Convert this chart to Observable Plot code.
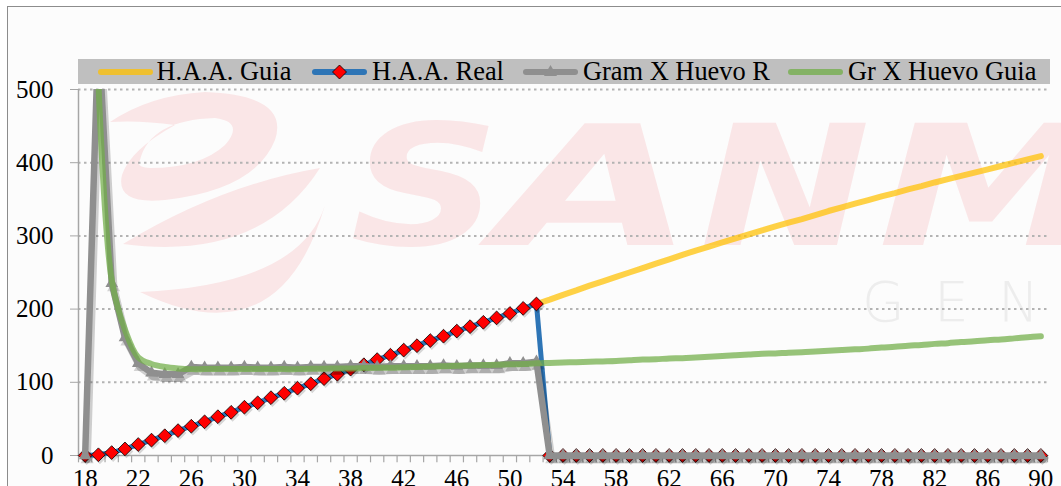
<!DOCTYPE html>
<html>
<head>
<meta charset="utf-8">
<script src="https://cdn.jsdelivr.net/npm/d3@7"></script>
<script src="https://cdn.jsdelivr.net/npm/@observablehq/plot@0.6"></script>
<style>
html,body{margin:0;padding:0;background:#fff;overflow:hidden;width:1061px;height:486px;}
#frame{position:absolute;left:7px;top:6px;width:1200px;height:600px;border:1.5px solid #8c8c8c;background:#fcfcfc;}
#wm{position:absolute;left:0;top:0;}
#chart{position:absolute;left:0;top:0;}
#legend{position:absolute;left:78px;top:59px;width:972px;height:25px;background:#bfbfbf;
  font-family:"Liberation Serif","Times New Roman",serif;font-size:26.4px;line-height:25px;color:#000;white-space:nowrap;}
#legend .sw{position:absolute;top:0;}
#legend .tx{position:absolute;top:0;}
</style>
</head>
<body>
<div id="frame"></div>
<svg id="wm" width="1061" height="486">
  <g fill="#fae6e7">
    <path fill-rule="evenodd" d="M110,122 Q150,95 205,92 Q290,95 275,140 Q255,190 165,200 Q115,205 122,175 Q130,150 175,125 Q140,120 110,122 Z M140,160 Q150,120 215,118 Q245,122 225,145 Q200,168 150,168 Q135,167 140,160 Z"/>
    <path d="M123,244 Q260,262 320,168 Q220,185 123,244 Z"/>
    <path d="M140,292 Q280,360 325,205 Q300,285 140,292 Z"/>
    <g font-family="DejaVu Sans" font-weight="bold" font-style="oblique" font-size="167">
      <text x="350" y="245" textLength="150" lengthAdjust="spacingAndGlyphs">S</text>
      <text x="495" y="245" textLength="200" lengthAdjust="spacingAndGlyphs">A</text>
      <text x="700" y="245" textLength="170" lengthAdjust="spacingAndGlyphs">N</text>
      <text x="878" y="245" textLength="225" lengthAdjust="spacingAndGlyphs">M</text>
    </g>
  </g>
  <g fill="#ededed" font-family="DejaVu Sans" font-weight="200" font-size="55">
    <text x="862" y="321">G</text>
    <text x="934" y="321">E</text>
    <text x="998" y="321">N</text>
  </g>
</svg>
<div id="chart"></div>
<div id="legend"></div>
<script>
// ---- data ----
const weeks = [18,19,20,21,22,23,24,25,26,27,28,29,30,31,32,33,34,35,36,37,38,39,40,41,42,43,44,45,46,47,48,49,50,51,52,53,54,55,56,57,58,59,60,61,62,63,64,65,66,67,68,69,70,71,72,73,74,75,76,77,78,79,80,81,82,83,84,85,86,87,88,89,90];

// H.A.A. Real (weeks 18..90)
const haaReal = [0,1,4,9,15,21,27,34,40,46,53,59,66,72,79,85,92,98,105,111,118,124,131,137,144,150,157,163,170,176,182,188,194,201,207,
  0,0,0,0,0,0,0,0,0,0,0,0,0,0,0,0,0,0,0,0,0,0,0,0,0,0,0,0,0,0,0,0,0,0,0,0,0,0];

// Gram X Huevo R (weeks 18..90)
const gramHuevoReal = [0,580,235,161,126,113,111,111,121,120,120,120,121,120,120,121,120,121,121,121,122,122,121,122,122,122,122,123,122,123,123,123,126,126,128,
  0,0,0,0,0,0,0,0,0,0,0,0,0,0,0,0,0,0,0,0,0,0,0,0,0,0,0,0,0,0,0,0,0,0,0,0,0,0];

// H.A.A. Guia (weeks 52..90)
const haaGuiaStart = 52;
const haaGuia = [207,213,219.5,225.5,232,238,244,250,256,262,268,274,280,285.5,291,296.5,302,307.5,313,318,323,328.5,334,339,344,349,354,358.5,363.5,368,373,377.5,382,386.5,391,395.5,400,404.5,409];

// Gr X Huevo Guia (weeks 19..90)
const grHuevoGuiaStart = 19;
const grHuevoGuia = [510,240,172,134,125,121,119,118,118,118,118,118,118,118,118,118,118.5,118.5,119,119,119.5,120,120,120.5,121,121.5,122,122.5,123,123.5,124,124.5,125,126,
  126.5,127,127.5,128,128.5,129,130,131,131.5,132.5,133,134,135,136,137,138,139,139.5,140.5,141,142,143,144,145,146,147.5,148.5,150,151,152.5,153.5,155,156,157.5,158.5,160,161.5,163];

const yTicks = [0,100,200,300,400,500];
const yGrid = [100,200,300,400,500];
const xTickLabels = [18,22,26,30,34,38,42,46,50,54,58,62,66,70,74,78,82,86,90];

const seriesNames = ["H.A.A. Guia","H.A.A. Real","Gram X Huevo R","Gr X Huevo Guia"];
const seriesColors = ["#FFC000","#2E75B6","#8f8f8f","#70AD47"];

// ---- tables ----
const realRows = weeks.map((w,i)=>({week:w, v:haaReal[i]}));
const gramRows = weeks.map((w,i)=>({week:w, v:gramHuevoReal[i]}));
const i0 = weeks.indexOf(haaGuiaStart);
const guiaRows = haaGuia.map((v,i)=>({week:weeks[i0+i], v}));
const i1 = weeks.indexOf(grHuevoGuiaStart);
const greenRows = grHuevoGuia.map((v,i)=>({week:weeks[i1+i], v}));
const xTickMarks = weeks.map(w=>w-0.5).concat([weeks[weeks.length-1]+0.5]);

const serif = '"Liberation Serif","Times New Roman",serif';

const chart = Plot.plot({
  width: 1061,
  height: 500,
  marginLeft: 78,
  marginRight: 14,
  marginTop: 89,
  marginBottom: 15.72,
  x: {domain: [17.5, 90.5], axis: null},
  y: {domain: [-40, 500], axis: null},
  style: {background: "transparent", fontFamily: serif, fontSize: "25px", color: "black", overflow: "visible"},
  marks: [
    Plot.gridY(yGrid, {stroke: "#b3b3b3", strokeOpacity: 1, strokeWidth: 2, strokeDasharray: "2.5,3.5"}),
    Plot.ruleX([17.5], {y1: 0, y2: 500, stroke: "#a6a6a6", strokeWidth: 1.5}),
    Plot.ruleY([0], {stroke: "#a6a6a6", strokeWidth: 1.5}),
    Plot.ruleX(xTickMarks, {y1: 0, y2: -10, stroke: "#a6a6a6", strokeWidth: 1.2}),
    Plot.axisY({ticks: yTicks, tickSize: 8, tickPadding: 17, stroke: "#a6a6a6", fill: "black", fontSize: 25, label: null, fontFamily: serif}),
    Plot.text(xTickLabels, {x: d=>d, y: ()=>0, text: d=>String(d), lineAnchor: "top", dy: 14, fontSize: 25, fill: "black", fontFamily: serif}),
    // H.A.A. Guia
    Plot.line(guiaRows, {x: "week", y: "v", stroke: seriesColors[0], strokeOpacity: 0.72, strokeWidth: 6, strokeLinecap: "round"}),
    // H.A.A. Real
    Plot.line(realRows, {x: "week", y: "v", stroke: seriesColors[1], strokeWidth: 5, strokeLinejoin: "round"}),
    Plot.dot(realRows, {x: "week", y: "v", symbol: "diamond2", r: 6.2, fill: "#000", fillOpacity: 0.15, stroke: "none", dx: 1.5, dy: 2.5}),
    Plot.dot(realRows, {x: "week", y: "v", symbol: "diamond2", r: 6.2, fill: "#ff0000", stroke: "#000", strokeWidth: 0.8}),
    // Gram X Huevo R (with Excel-like shadow)
    Plot.line(gramRows, {x: "week", y: "v", stroke: "#000", strokeOpacity: 0.18, strokeWidth: 7.5, strokeLinejoin: "round", dx: 2, dy: 4, clip: true}),
    Plot.dot(gramRows, {x: "week", y: "v", symbol: "triangle2", r: 6.3, fill: "#000", fillOpacity: 0.16, stroke: "none", dx: 2, dy: 4, clip: true}),
    Plot.line(gramRows, {x: "week", y: "v", stroke: seriesColors[2], strokeWidth: 6.5, strokeLinejoin: "round", clip: true}),
    Plot.dot(gramRows, {x: "week", y: "v", symbol: "triangle2", r: 6, fill: seriesColors[2], stroke: "none", clip: true}),
    // Gr X Huevo Guia
    Plot.line(greenRows, {x: "week", y: "v", stroke: seriesColors[3], strokeOpacity: 0.72, strokeWidth: 6, curve: "catmull-rom", strokeLinecap: "round", clip: true})
  ]
});
document.getElementById("chart").appendChild(chart);

// legend (positions in px from the legend box's left edge)
const swatchLeft = [20, 234, 445, 710];
const textLeft = [78.5, 294, 505, 770];
const legend = d3.select("#legend");
seriesNames.forEach((name, i) => {
  const s = legend.append("svg").attr("class", "sw").attr("width", 58).attr("height", 25).style("left", swatchLeft[i] + "px");
  s.append("line").attr("x1", 3).attr("x2", 52).attr("y1", 13).attr("y2", 13)
    .attr("stroke", seriesColors[i]).attr("stroke-width", 6).attr("stroke-linecap", "round")
    .attr("stroke-opacity", (i === 0 || i === 3) ? 0.75 : 1);
  if (i === 1) s.append("path").attr("d", "M27.5,6 L34.5,13 L27.5,20 L20.5,13 Z").attr("fill", "#ff0000").attr("stroke", "#000").attr("stroke-width", 0.8);
  if (i === 2) s.append("path").attr("d", "M27.5,6 L34,17 L21,17 Z").attr("fill", seriesColors[2]);
  legend.append("span").attr("class", "tx").style("left", textLeft[i] + "px").text(name);
});
</script>
</body>
</html>
